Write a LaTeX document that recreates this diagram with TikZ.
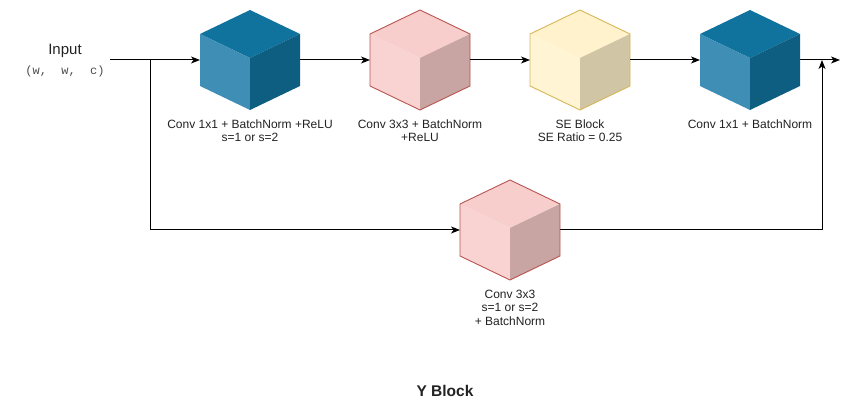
\documentclass[tikz,border=0pt]{standalone}
\usepackage{fontspec}
\setmainfont{Liberation Sans}
\setmonofont{Liberation Mono}
\usetikzlibrary{arrows.meta,calc}
\definecolor{bluetop}{HTML}{10739E}
\definecolor{blueleft}{HTML}{3E8EB5}
\definecolor{blueright}{HTML}{0E5E82}
\definecolor{pinktop}{HTML}{F8CECC}
\definecolor{pinkleft}{HTML}{F9D3D1}
\definecolor{pinkright}{HTML}{C8A4A2}
\definecolor{pinkstroke}{HTML}{B85450}
\definecolor{yeltop}{HTML}{FFF2CC}
\definecolor{yelleft}{HTML}{FFF4D3}
\definecolor{yelright}{HTML}{D0C5A5}
\definecolor{yelstroke}{HTML}{D6B656}
\definecolor{txt}{HTML}{222222}
\newcommand{\drawcube}[5]{%
  \begin{scope}[shift={(#1.north west)}]
    \fill[#2] (50,0) -- (100,24) -- (50,48) -- (0,24) -- cycle;
    \fill[#3] (0,24) -- (50,48) -- (50,100) -- (0,76) -- cycle;
    \fill[#4] (50,48) -- (100,24) -- (100,76) -- (50,100) -- cycle;
    \draw[#5, line width=0.9pt, line join=round] (50,0) -- (100,24) -- (100,76) -- (50,100) -- (0,76) -- (0,24) -- cycle;
  \end{scope}}
\tikzset{
  cubebox/.style={rectangle, minimum width=100pt, minimum height=100pt,
    inner sep=0pt, outer sep=0pt},
  lab/.style={align=center, font=\fontsize{12}{13.5}\selectfont, text=txt, inner sep=0pt},
  arr/.style={line width=1pt, -{Stealth[length=9pt,width=7pt,inset=2.5pt]}},
}
\begin{document}
\begin{tikzpicture}[x=1pt,y=-1pt]
\useasboundingbox (0,0) rectangle (859,411);
% cubes
\node[cubebox] (c1) at (250,60) {};
\node[cubebox] (c2) at (420,60) {};
\node[cubebox] (c3) at (580,60) {};
\node[cubebox] (c4) at (750,60) {};
\node[cubebox] (c5) at (510,230) {};
\drawcube{c1}{bluetop}{blueleft}{blueright}{draw=none}
\drawcube{c2}{pinktop}{pinkleft}{pinkright}{pinkstroke}
\drawcube{c3}{yeltop}{yelleft}{yelright}{yelstroke}
\drawcube{c4}{bluetop}{blueleft}{blueright}{draw=none}
\drawcube{c5}{pinktop}{pinkleft}{pinkright}{pinkstroke}
% labels
\node[font=\fontsize{15}{15}\selectfont, text=txt, inner sep=0pt] (inlab) at (65,51) {Input};
\node[font=\ttfamily\fontsize{12}{12}\selectfont, text=txt!80, inner sep=0pt] (inshape) at (65,71) {(w,\ \ w,\ \ c)};
\node[lab] (l1) at (250,130.5) {Conv 1x1 + BatchNorm +ReLU\\s=1 or s=2};
\node[lab] (l2) at (420,130.5) {Conv 3x3 + BatchNorm\\+ReLU};
\node[lab] (l3) at (580,130.5) {SE Block\\SE Ratio = 0.25};
\node[lab] (l4) at (750,124) {Conv 1x1 + BatchNorm};
\node[lab] (l5) at (510,307.5) {Conv 3x3\\s=1 or s=2\\+ BatchNorm};
\node[font=\bfseries\fontsize{15.5}{15.5}\selectfont, text=txt, inner sep=0pt] (title) at (445,391) {Y Block};
% coordinates
\coordinate (start) at (110,60);
\coordinate (br) at (150,60);
\coordinate (join) at (822,60);
\coordinate (out) at (840,60);
% connectors
\draw[arr] (start) -- (c1.west);
\draw[arr] (c1.east) -- (c2.west);
\draw[arr] (c2.east) -- (c3.west);
\draw[arr] (c3.east) -- (c4.west);
\draw[arr] (c4.east) -- (out);
\draw[arr] (br) |- (c5.west);
\draw[arr] (c5.east) -| (join);
\end{tikzpicture}
\end{document}
